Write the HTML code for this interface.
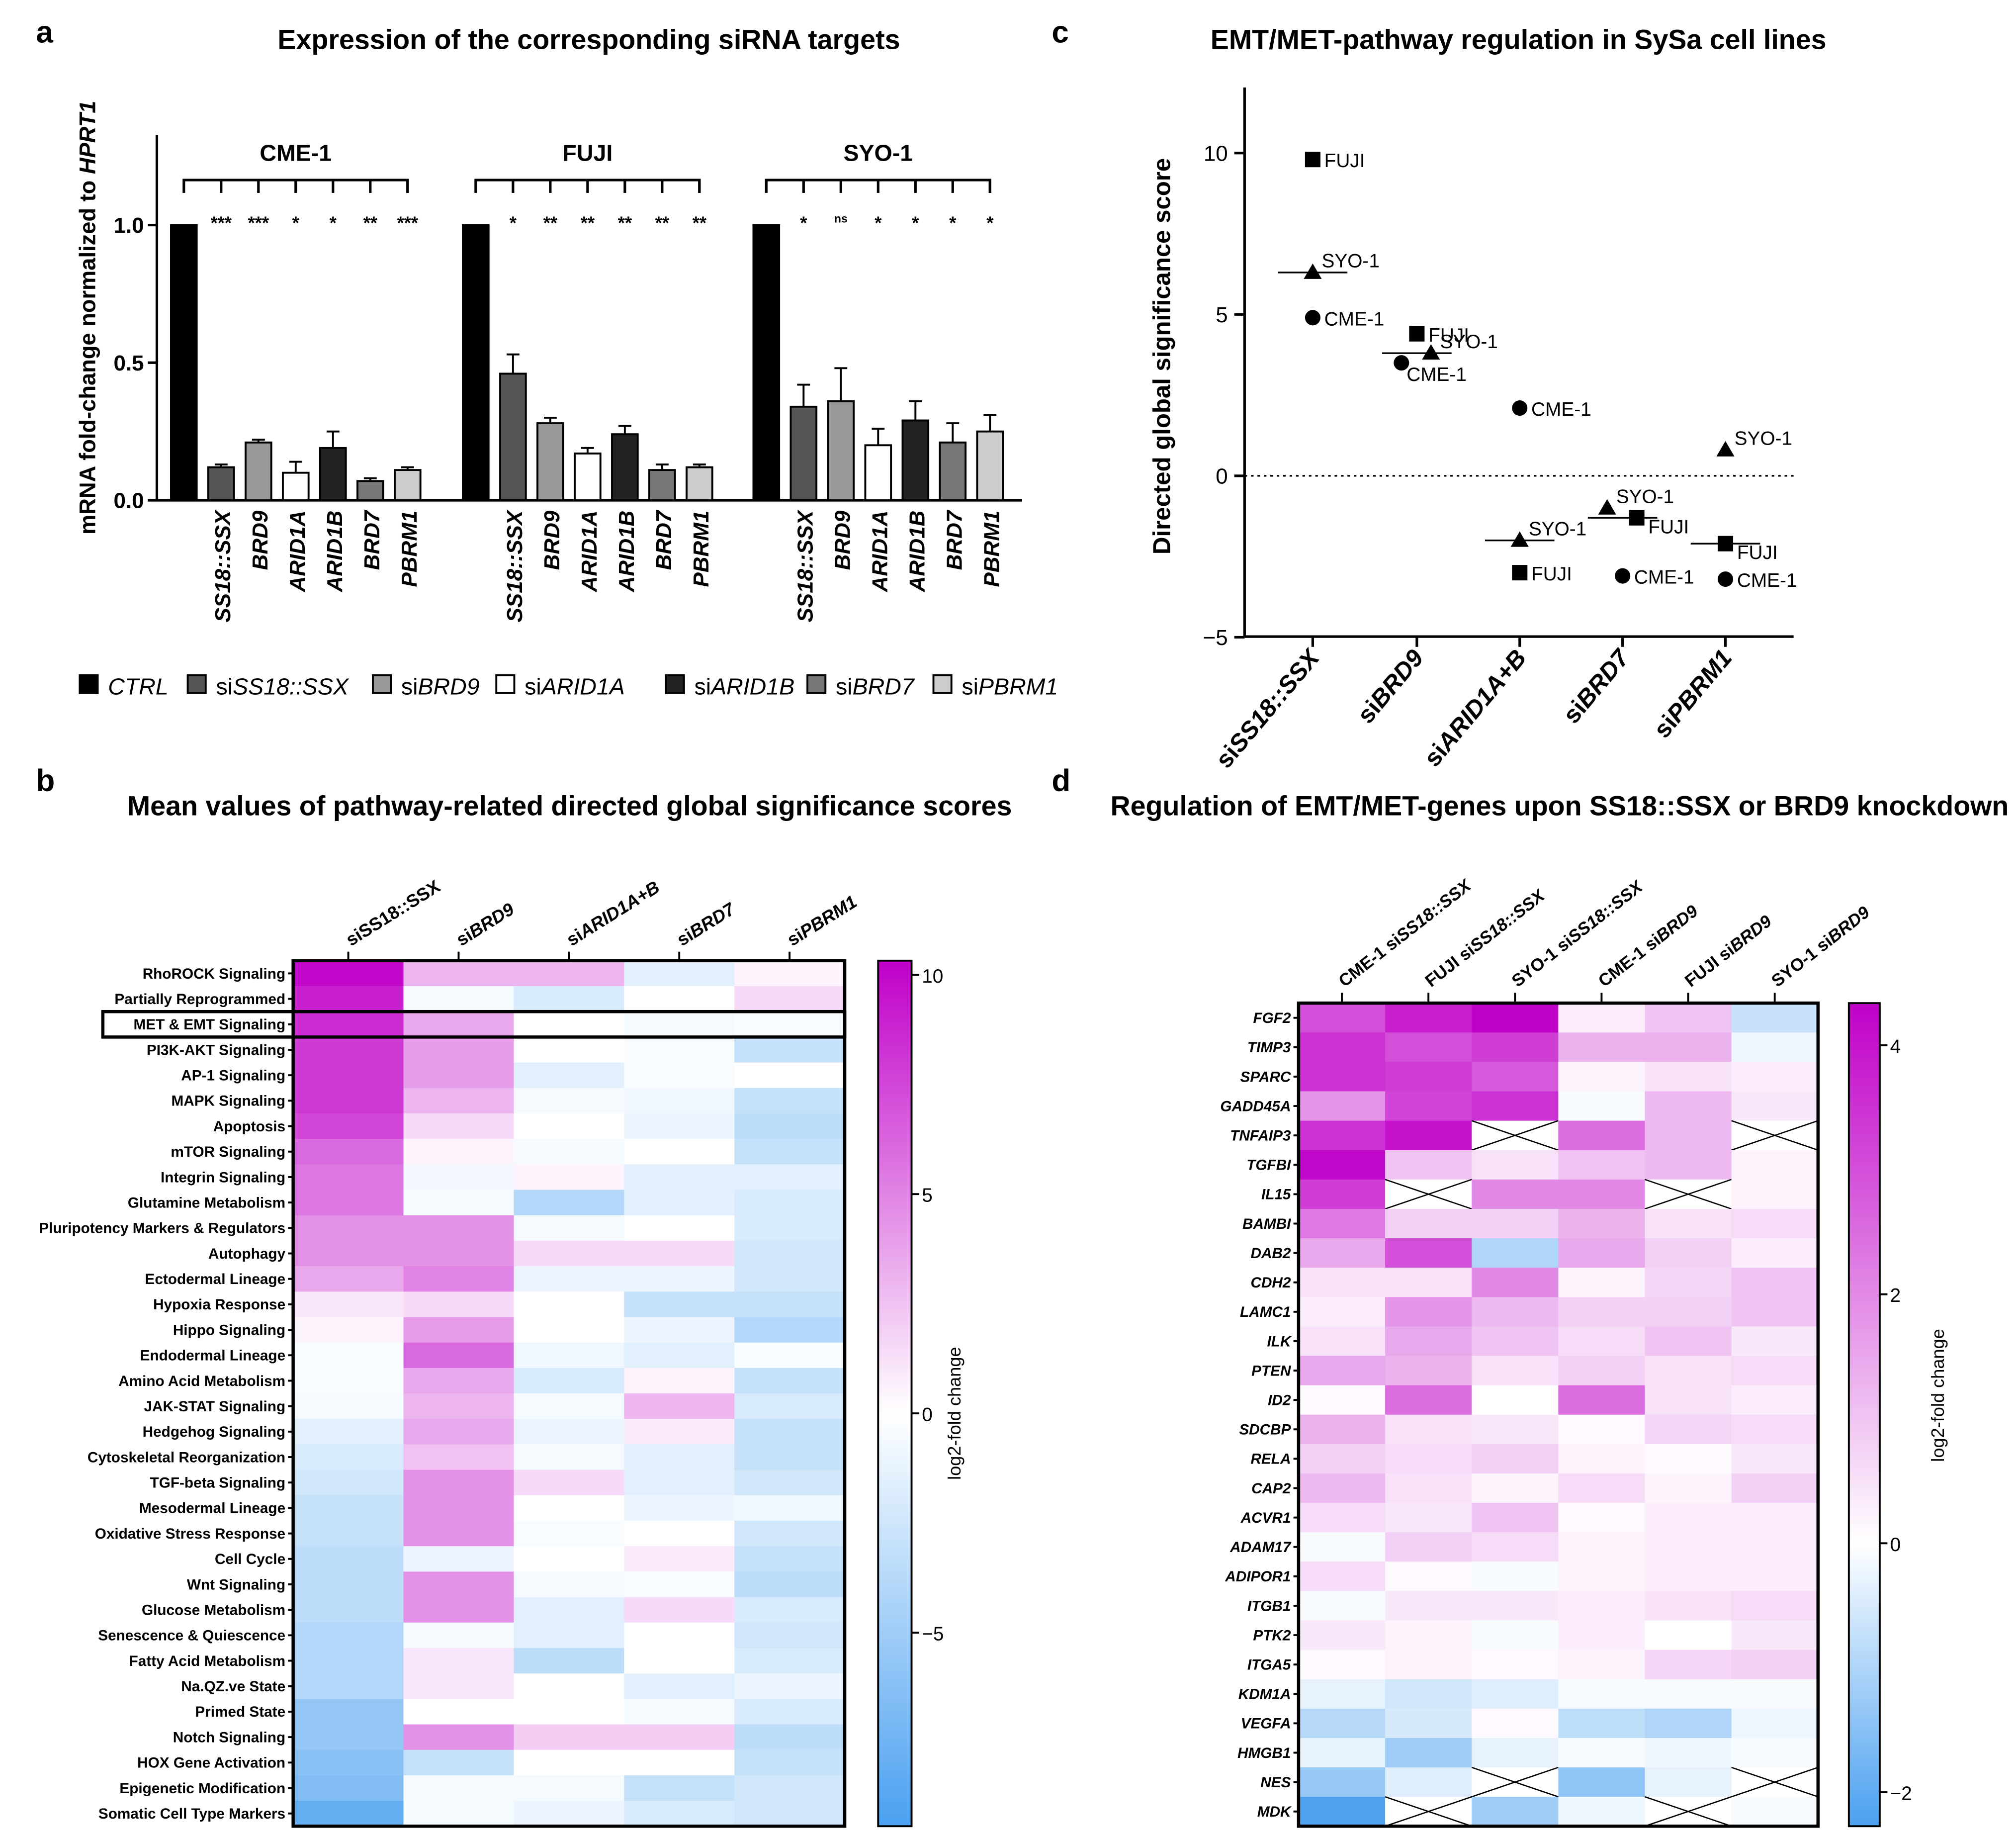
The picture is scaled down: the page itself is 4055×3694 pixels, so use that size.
<!DOCTYPE html>
<html><head><meta charset="utf-8"><style>
html,body{margin:0;padding:0;background:#fff}
svg{display:block}
text{font-family:"Liberation Sans",sans-serif}
</style></head><body>
<svg id="fig" xmlns="http://www.w3.org/2000/svg" width="4055" height="3694" viewBox="0 0 1568 1428.4">
<defs>
<linearGradient id="gb" x1="0" y1="0" x2="0" y2="1"><stop offset="0" stop-color="#c000c8"/><stop offset="0.523" stop-color="#ffffff"/><stop offset="1" stop-color="#4aa0f0"/></linearGradient>
<linearGradient id="gd" x1="0" y1="0" x2="0" y2="1"><stop offset="0" stop-color="#c000c8"/><stop offset="0.656" stop-color="#ffffff"/><stop offset="1" stop-color="#4aa0f0"/></linearGradient>
</defs>
<g font-weight="bold" font-size="24">
<text x="28" y="33">a</text><text x="818" y="33">c</text><text x="28" y="615">b</text><text x="818" y="615">d</text>
</g>
<g font-weight="bold" font-size="21.5" text-anchor="middle">
<text x="458" y="38">Expression of the corresponding siRNA targets</text>
<text x="1181" y="38">EMT/MET-pathway regulation in SySa cell lines</text>
<text x="443" y="634">Mean values of pathway-related directed global significance scores</text>
<text x="1213" y="634">Regulation of EMT/MET-genes upon SS18::SSX or BRD9 knockdown</text>
</g>
<g id="pa"></g><g id="pc"></g><g id="pb"></g><g id="pd"></g>
</svg>
<script>
const NS="http://www.w3.org/2000/svg";
// ---- Panel a data
const aGroups=["CME-1","FUJI","SYO-1"];
const aTargets=["CTRL","SS18::SSX","BRD9","ARID1A","ARID1B","BRD7","PBRM1"];
const aCME=[1,0.12,0.21,0.10,0.19,0.07,0.11];
const aFUJI=[1,0.46,0.28,0.17,0.24,0.11,0.12];
const aSYO=[1,0.34,0.36,0.20,0.29,0.21,0.25];
const aErrCME=[0,0.01,0.01,0.04,0.06,0.01,0.01];
const aErrFUJI=[0,0.07,0.02,0.02,0.03,0.02,0.01];
const aErrSYO=[0,0.08,0.12,0.06,0.07,0.07,0.06];
const aStarsCME=["***","***","*","*","**","***"];
const aStarsFUJI=["*","**","**","**","**","**"];
const aStarsSYO=["*","ns","*","*","*","*"];
const aTicks=[0,0.5,1.0];
// ---- Panel c data
const cCats=["siSS18::SSX","siBRD9","siARID1A+B","siBRD7","siPBRM1"];
const cFUJI=[9.8,4.4,-3.0,-1.3,-2.1];
const cSYO=[6.3,3.8,-2.0,-1.0,0.8];
const cCME=[4.9,3.5,2.1,-3.1,-3.2];
const cTicks=[-5,0,5,10];
// ---- Panel b data
const bCols=["siSS18::SSX","siBRD9","siARID1A+B","siBRD7","siPBRM1"];
const bRows=["RhoROCK Signaling","Partially Reprogrammed","MET & EMT Signaling","PI3K-AKT Signaling","AP-1 Signaling","MAPK Signaling","Apoptosis","mTOR Signaling","Integrin Signaling","Glutamine Metabolism","Pluripotency Markers & Regulators","Autophagy","Ectodermal Lineage","Hypoxia Response","Hippo Signaling","Endodermal Lineage","Amino Acid Metabolism","JAK-STAT Signaling","Hedgehog Signaling","Cytoskeletal Reorganization","TGF-beta Signaling","Mesodermal Lineage","Oxidative Stress Response","Cell Cycle","Wnt Signaling","Glucose Metabolism","Senescence & Quiescence","Fatty Acid Metabolism","Na.QZ.ve State","Primed State","Notch Signaling","HOX Gene Activation","Epigenetic Modification","Somatic Cell Type Markers"];
const bVals=[[10,3,3,-1.5,0.5],[9,-0.5,-2,0,1.5],[8.5,3.5,0,-0.5,-0.3],[8,4,0,-0.3,-3],[8,4,-1.5,-0.3,0],[8,3,-0.5,-0.8,-3],[7.5,1.5,0,-1,-3.5],[6,0.5,-0.5,0,-3],[5.5,-0.7,0.5,-1.5,-1.5],[5.5,-0.5,-4,-1.5,-2],[4.5,4.5,-0.5,0,-2],[4.5,4.5,1.5,1.5,-2.5],[3.5,5,-1,-1,-2.5],[1,1.5,0,-3,-3],[0.5,4,0,-1,-4],[-0.3,6,-0.8,-1.5,-0.3],[-0.3,3.5,-2,0.5,-3],[-0.5,3,-0.5,3,-2],[-1.5,3.5,-1,0.8,-3],[-2,2.5,-0.5,-1.5,-3],[-2.5,4.5,1.5,-1.5,-2.5],[-3,4.5,0,-1,-0.8],[-3,4.5,-0.3,0,-2.5],[-3.5,-1,0,0.8,-3],[-3.5,4.5,-0.5,-0.3,-3.5],[-3.5,4.5,-1.5,1.5,-2],[-4,-0.5,-1.5,0,-2.5],[-4,1,-3.5,0,-2],[-4,1,0,-1.5,-1],[-5.5,0,0,-0.5,-2],[-5.5,4.5,2,2,-3.5],[-6,-3,0,0,-3],[-6.5,-0.5,-0.5,-3,-2.5],[-8,-0.5,-1,-2,-2.5]];
const bTicks=[-5,0,5,10];
// ---- Panel d data
const dCols=["CME-1 siSS18::SSX","FUJI siSS18::SSX","SYO-1 siSS18::SSX","CME-1 siBRD9","FUJI siBRD9","SYO-1 siBRD9"];
const dRows=["FGF2","TIMP3","SPARC","GADD45A","TNFAIP3","TGFBI","IL15","BAMBI","DAB2","CDH2","LAMC1","ILK","PTEN","ID2","SDCBP","RELA","CAP2","ACVR1","ADAM17","ADIPOR1","ITGB1","PTK2","ITGA5","KDM1A","VEGFA","HMGB1","NES","MDK"];
const X=null;
const dVals=[[3,3.8,4.3,0.3,1,-0.7],[3.5,3,3.3,1.3,1.3,-0.2],[3.5,3.3,2.8,0.2,0.5,0.3],[1.8,3.2,3.5,-0.1,1.2,0.4],[3.5,4,X,2.5,1.2,X],[4.2,1,0.5,1,1.2,0.2],[3.3,X,2,2,X,0.2],[2.3,0.8,0.8,1.3,0.5,0.6],[1.5,3,-1,1.5,0.8,0.3],[0.5,0.5,2,0.2,0.7,1],[0.3,1.8,1.2,0.8,0.8,1],[0.5,1.5,1,0.6,1,0.4],[1.5,1.3,0.5,0.8,0.5,0.6],[0.1,2.5,0,2.5,0.5,0.3],[1.3,0.5,0.4,0.1,0.7,0.6],[0.8,0.6,0.8,0.2,0.1,0.4],[1.2,0.5,0.2,0.6,0.2,0.8],[0.6,0.4,1,0.1,0.3,0.3],[-0.1,0.8,0.6,0.2,0.3,0.3],[0.6,0.1,-0.1,0.2,0.3,0.3],[-0.1,0.4,0.4,0.3,0.5,0.6],[0.4,0.2,-0.1,0.3,0,0.4],[0.1,0.2,0.1,0.2,0.7,0.8],[-0.3,-0.6,-0.4,-0.1,-0.1,-0.1],[-0.9,-0.5,0.1,-0.8,-1,-0.2],[-0.3,-1.2,-0.3,-0.1,-0.2,-0.1],[-1.3,-0.4,X,-1.4,-0.3,X],[-2.2,X,-1.2,-0.2,X,-0.1]];
const dTicks=[-2,0,2,4];

function mk(parent,tag,attrs,txt){const e=document.createElementNS(NS,tag);for(const k in attrs)e.setAttribute(k,attrs[k]);if(txt!==undefined)e.textContent=txt;parent.appendChild(e);return e;}
function heat(v,max,min){
  if(v>=0){const t=Math.min(v/max,1);return `rgb(${Math.round(255-63*t)},${Math.round(255-255*t)},${Math.round(255-55*t)})`;}
  const t=Math.min(-v/(-min),1);return `rgb(${Math.round(255-181*t)},${Math.round(255-95*t)},${Math.round(255-15*t)})`;
}
function richText(parent,x,y,parts,attrs){const t=mk(parent,"text",Object.assign({x:x,y:y},attrs));parts.forEach(p=>{mk(t,"tspan",p[1]?{"font-style":"italic"}:{},p[0]);});return t;}

// ================= Panel a
(function(){
const g=document.getElementById("pa");
const y0=389, unit=214, ya=v=>y0-v*unit;
const starts=[143,370,596], step=29, bw=20;
const series=[aCME,aFUJI,aSYO], errs=[aErrCME,aErrFUJI,aErrSYO], stars=[aStarsCME,aStarsFUJI,aStarsSYO];
const fills=["#000","#555","#999","#fff","#222","#777","#ccc"];
let e;
e=mk(g,"line",{x1:122,y1:105,x2:122,y2:y0,stroke:"#000","stroke-width":2});


e=mk(g,"line",{x1:122,y1:y0,x2:795,y2:y0,stroke:"#000","stroke-width":2});


aTicks.forEach(t=>{
  mk(g,"line",{x1:115,y1:ya(t),x2:122,y2:ya(t),stroke:"#000","stroke-width":2});
  e=mk(g,"text",{x:112,y:ya(t)+6,"text-anchor":"end","font-size":17,"font-weight":"bold"},t.toFixed(1));
  
  
});
e=mk(g,"text",{transform:"translate(74,247) rotate(-90)","text-anchor":"middle","font-size":17.5,"font-weight":"bold"});
mk(e,"tspan",{},"mRNA fold-change normalized to ");mk(e,"tspan",{"font-style":"italic"},"HPRT1");


aGroups.forEach((gn,gi)=>{
  const s=series[gi];
  s.forEach((v,i)=>{
    const cx=starts[gi]+i*step;
    const r=mk(g,"rect",{x:cx-bw/2,y:ya(v),width:bw,height:y0-ya(v),fill:fills[i],stroke:"#000","stroke-width":1.5});
    
    
    if(errs[gi][i]>0){
      const top=ya(v+errs[gi][i]);
      mk(g,"line",{x1:cx,y1:ya(v),x2:cx,y2:top,stroke:"#000","stroke-width":1.5});
      mk(g,"line",{x1:cx-5,y1:top,x2:cx+5,y2:top,stroke:"#000","stroke-width":1.5});
    }
    if(i>0){
      const st=mk(g,"text",{x:cx,y:stars[gi][i-1]==="ns"?173:178,"text-anchor":"middle","font-size":stars[gi][i-1]==="ns"?9:14,"font-weight":"bold"},stars[gi][i-1]);
      
      
      const lb=mk(g,"text",{transform:`translate(${cx+7},${y0+8}) rotate(-90)`,"text-anchor":"end","font-size":17,"font-weight":"bold","font-style":"italic"},aTargets[i]);
      
      
    }
  });
  const x1=starts[gi], x2=starts[gi]+6*step;
  const br=mk(g,"path",{d:`M${x1},150 V140 H${x2} V150`,fill:"none",stroke:"#000","stroke-width":2});
  
  
  for(let i=1;i<7;i++){mk(g,"line",{x1:x1+i*step,y1:140,x2:x1+i*step,y2:150,stroke:"#000","stroke-width":2});}
  const gt=mk(g,"text",{x:(x1+x2)/2,y:125,"text-anchor":"middle","font-size":18,"font-weight":"bold"},gn);
  
  
});
const leg=[[62,[["CTRL",1]]],[146,[["si",0],["SS18::SSX",1]]],[290,[["si",0],["BRD9",1]]],[386,[["si",0],["ARID1A",1]]],[518,[["si",0],["ARID1B",1]]],[628,[["si",0],["BRD7",1]]],[726,[["si",0],["PBRM1",1]]]];
leg.forEach((l,i)=>{
  const sq=mk(g,"rect",{x:l[0],y:525,width:14,height:14,fill:fills[i],stroke:"#000","stroke-width":1.5});
  
  
  const t=richText(g,l[0]+22,540,l[1],{"font-size":18});
  
  
});
})();

// ================= Panel c
(function(){
const g=document.getElementById("pc");
const y0=370, unit=25.1, yc=v=>y0-v*unit;
const xs=[1021,1102,1182,1262,1342];
let e;
e=mk(g,"line",{x1:968,y1:68,x2:968,y2:495,stroke:"#000","stroke-width":2});


e=mk(g,"line",{x1:968,y1:495,x2:1395,y2:495,stroke:"#000","stroke-width":2});


e=mk(g,"line",{x1:968,y1:y0,x2:1395,y2:y0,stroke:"#000","stroke-width":1.3,"stroke-dasharray":"2,3"});


cTicks.forEach(t=>{
  mk(g,"line",{x1:960,y1:yc(t),x2:968,y2:yc(t),stroke:"#000","stroke-width":2});
  e=mk(g,"text",{x:955,y:yc(t)+6,"text-anchor":"end","font-size":17},String(t).replace("-","−"));
  
  
});
e=mk(g,"text",{transform:"translate(910,277) rotate(-90)","text-anchor":"middle","font-size":19,"font-weight":"bold"},"Directed global significance score");


const off=[[0,0,0],[0,11,-12],[0,0,0],[11,-12,0],[0,0,0]];
cCats.forEach((c,i)=>{
  const x=xs[i];
  mk(g,"line",{x1:x,y1:495,x2:x,y2:503,stroke:"#000","stroke-width":2});
  const lb=mk(g,"text",{transform:`translate(${x+6},512) rotate(-50)`,"text-anchor":"end","font-size":19,"font-weight":"bold"});
  mk(lb,"tspan",{},"si");mk(lb,"tspan",{"font-style":"italic"},c.slice(2));
  
  
  const vs=[cFUJI[i],cSYO[i],cCME[i]].sort((a,b)=>a-b);
  const med=vs[1];
  const ml=mk(g,"line",{x1:x-27,y1:yc(med),x2:x+27,y2:yc(med),stroke:"#000","stroke-width":1.3});
  
  
  const fx=x+off[i][0], sx=x+off[i][1], cx=x+off[i][2];
  let p=mk(g,"rect",{x:fx-6,y:yc(cFUJI[i])-6,width:12,height:12,fill:"#000"});
  
  
  mk(g,"text",{x:fx+9,y:yc(cFUJI[i])+(i==4||i==3?12:6),"font-size":15},"FUJI");
  const sy=yc(cSYO[i]);
  p=mk(g,"path",{d:`M${sx},${sy-7} L${sx+7},${sy+5} L${sx-7},${sy+5} Z`,fill:"#000"});
  
  
  mk(g,"text",{x:sx+7,y:sy-4,"font-size":15},"SYO-1");
  p=mk(g,"circle",{cx:cx,cy:yc(cCME[i]),r:6,fill:"#000"});
  
  
  mk(g,"text",{x:cx+(i==1?4:9),y:yc(cCME[i])+(i==1?14:6),"font-size":15},"CME-1");
});
})();

// ================= Heatmap helper
function heatmap(g,rows,cols,vals,x0,x1,y0,y1,max,min,rowItalic,labelFont,prefix){
  const cw=(x1-x0)/cols.length, rh=(y1-y0)/rows.length;
  rows.forEach((r,ri)=>{
    const lb=mk(g,"text",{x:x0-6,y:y0+ri*rh+rh/2+4,"text-anchor":"end","font-size":labelFont,"font-weight":"bold","font-style":rowItalic?"italic":"normal"},r);
    
    
    mk(g,"line",{x1:x0-4,y1:y0+ri*rh+rh/2,x2:x0,y2:y0+ri*rh+rh/2,stroke:"#000","stroke-width":1.5});
    cols.forEach((c,ci)=>{
      const v=vals[ri][ci], x=x0+ci*cw, y=y0+ri*rh;
      const cell=mk(g,"rect",{x:x,y:y,width:cw+0.5,height:rh+0.5,fill:v===null?"#fff":heat(v,max,min)});
      
      
      if(v===null){
        mk(g,"path",{d:`M${x},${y} L${x+cw},${y+rh} M${x+cw},${y} L${x},${y+rh}`,stroke:"#000","stroke-width":1});
      }
    });
  });
  const fr=mk(g,"rect",{x:x0,y:y0,width:x1-x0,height:y1-y0,fill:"none",stroke:"#000","stroke-width":2.5});
  
  
  return {cw,rh};
}

// ================= Panel b
(function(){
const g=document.getElementById("pb");
const x0=228,x1=657,y0=747,y1=1420;
const {cw,rh}=heatmap(g,bRows,bCols,bVals,x0,x1,y0,y1,10.3,-9.4,false,11.5,"b");
const hl=mk(g,"rect",{x:80,y:y0+2*rh,width:x1-80,height:rh,fill:"none",stroke:"#000","stroke-width":2.5});


bCols.forEach((c,i)=>{
  const x=x0+cw*(i+0.5);
  mk(g,"line",{x1:x,y1:y0,x2:x,y2:y0-7,stroke:"#000","stroke-width":1.5});
  const t=mk(g,"text",{transform:`translate(${x+2},${y0-11}) rotate(-32)`,"font-size":14,"font-weight":"bold"});
  mk(t,"tspan",{},"si");mk(t,"tspan",{"font-style":i==0?"normal":"italic"},c.slice(2));
  
  
});
const cb=mk(g,"rect",{x:683,y:y0,width:26,height:y1-y0,fill:"url(#gb)",stroke:"#000","stroke-width":1.5});


const ycb=v=>1099-v*34.1;
bTicks.forEach(t=>{
  mk(g,"line",{x1:709,y1:ycb(t),x2:715,y2:ycb(t),stroke:"#000","stroke-width":1.5});
  const tl=mk(g,"text",{x:717,y:ycb(t)+6,"font-size":15},String(t).replace("-","−"));
  
  
});
const ct=mk(g,"text",{transform:"translate(747,1099) rotate(-90)","text-anchor":"middle","font-size":14},"log2-fold change");


})();

// ================= Panel d
(function(){
const g=document.getElementById("pd");
const x0=1010,x1=1414,y0=780,y1=1420;
const {cw,rh}=heatmap(g,dRows,dCols,dVals,x0,x1,y0,y1,4.33,-2.27,true,11.5,"d");
dCols.forEach((c,i)=>{
  const x=x0+cw*(i+0.5);
  mk(g,"line",{x1:x,y1:y0,x2:x,y2:y0-8,stroke:"#000","stroke-width":1.5});
  const p=c.split(" ");
  const t=mk(g,"text",{transform:`translate(${x+2},${y0-12}) rotate(-38)`,"font-size":13.5,"font-weight":"bold"});
  mk(t,"tspan",{},p[0]+" si");mk(t,"tspan",{"font-style":"italic"},p[1].slice(2));
  
  
});
const cb=mk(g,"rect",{x:1438,y:y0,width:24,height:y1-y0,fill:"url(#gd)",stroke:"#000","stroke-width":1.5});


const ycb=v=>1200-v*96.8;
dTicks.forEach(t=>{
  mk(g,"line",{x1:1462,y1:ycb(t),x2:1468,y2:ycb(t),stroke:"#000","stroke-width":1.5});
  const tl=mk(g,"text",{x:1470,y:ycb(t)+6,"font-size":15},String(t).replace("-","−"));
  
  
});
const ct=mk(g,"text",{transform:"translate(1512,1085) rotate(-90)","text-anchor":"middle","font-size":14},"log2-fold change");


})();
</script>
</body></html>
